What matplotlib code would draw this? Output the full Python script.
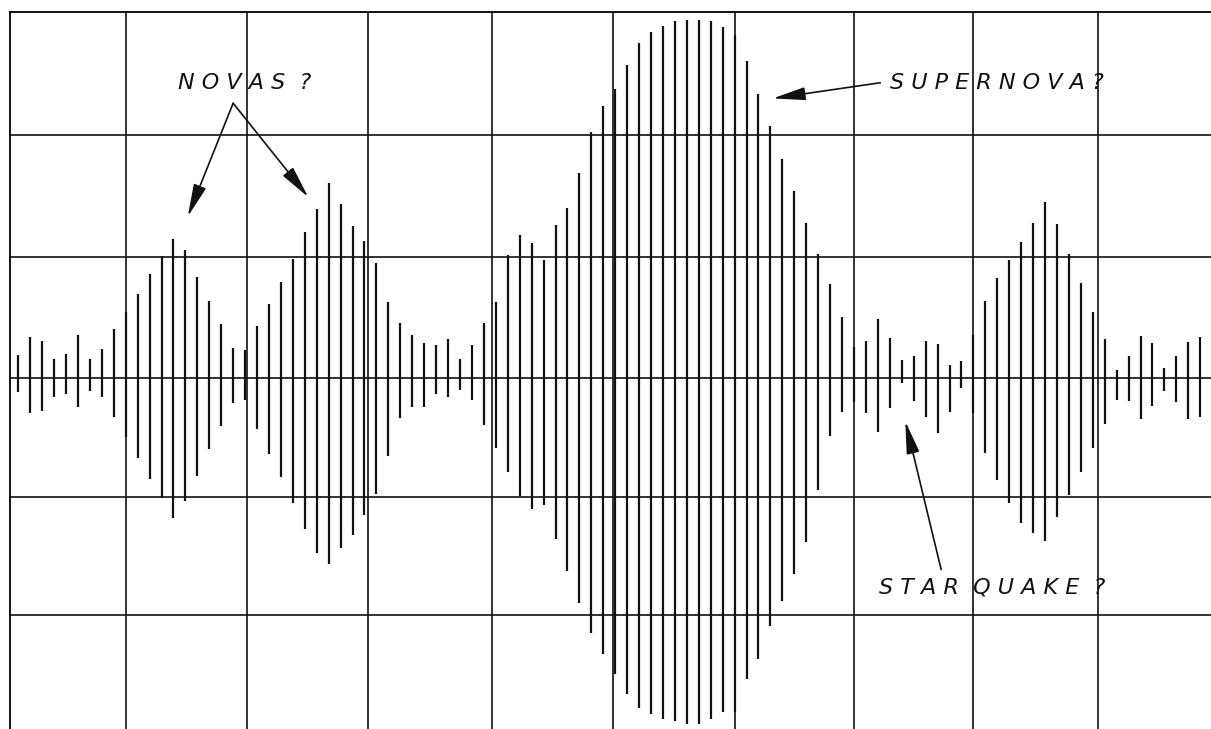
import numpy as np
from matplotlib import pyplot as plt

# pulse amplitudes in grid divisions, upward and downward swing of each pulse
up = [0.19, 0.34, 0.31, 0.16, 0.20, 0.36, 0.16, 0.24, 0.41, 0.55,
      0.70, 0.86, 1.01, 1.15, 1.06, 0.84, 0.64, 0.45, 0.25, 0.23,
      0.43, 0.61, 0.80, 0.99, 1.21, 1.40, 1.62, 1.44, 1.26, 1.14,
      0.95, 0.63, 0.46, 0.36, 0.29, 0.27, 0.32, 0.16, 0.27, 0.46,
      0.63, 1.02, 1.19, 1.12, 0.98, 1.27, 1.41, 1.70, 2.04, 2.26,
      2.40, 2.60, 2.78, 2.87, 2.92, 2.96, 2.97, 2.97, 2.96, 2.91,
      2.85, 2.63, 2.36, 2.09, 1.82, 1.55, 1.29, 1.03, 0.78, 0.51,
      0.26, 0.31, 0.49, 0.33, 0.15, 0.18, 0.31, 0.28, 0.11, 0.14,
      0.36, 0.64, 0.83, 0.98, 1.13, 1.29, 1.46, 1.28, 1.03, 0.79,
      0.55, 0.32, 0.07, 0.18, 0.35, 0.29, 0.08, 0.18, 0.30, 0.34]
down = [-0.12, -0.29, -0.27, -0.16, -0.13, -0.24, -0.11, -0.16, -0.32, -0.49,
        -0.66, -0.84, -1.00, -1.16, -1.02, -0.81, -0.59, -0.40, -0.21, -0.18,
        -0.42, -0.63, -0.82, -1.04, -1.25, -1.45, -1.54, -1.41, -1.30, -1.14,
        -0.96, -0.65, -0.33, -0.24, -0.24, -0.13, -0.16, -0.10, -0.18, -0.39,
        -0.58, -0.78, -0.98, -1.09, -1.05, -1.34, -1.60, -1.87, -2.12, -2.29,
        -2.46, -2.62, -2.74, -2.79, -2.83, -2.85, -2.87, -2.87, -2.83, -2.77,
        -2.77, -2.50, -2.33, -2.06, -1.85, -1.63, -1.36, -0.93, -0.48, -0.28,
        -0.20, -0.29, -0.45, -0.25, -0.04, -0.19, -0.32, -0.46, -0.28, -0.08,
        -0.29, -0.62, -0.85, -1.04, -1.20, -1.29, -1.35, -1.15, -0.97, -0.78,
        -0.58, -0.38, -0.18, -0.19, -0.34, -0.23, -0.11, -0.20, -0.34, -0.32]
t = np.arange(len(up))

# chart paper grid
grid_x = [9, 19.2, 29.3, 39.7, 49.8, 60, 70, 80, 90.4]
grid_y = [-1.97, -0.99, 0, 1, 2.02]

fig = plt.figure(figsize=(12.11, 7.29), dpi=100)
ax = fig.add_axes([10/1211, 0, 1 - 10/1211, 717/729])
ax.set_xlim(-0.69, 99.9)
ax.set_ylim(-2.913, 3.037)

for gx in grid_x:
    ax.axvline(gx, color="#111111", lw=1.2, zorder=1)
for gy in grid_y:
    ax.axhline(gy, color="#111111", lw=1.2, zorder=1)

ax.vlines(t, down, up, color="#111111", lw=1.6, zorder=2)

for s in ["right", "bottom"]:
    ax.spines[s].set_visible(False)
for s in ["left", "top"]:
    ax.spines[s].set_linewidth(1.3)
ax.set_xticks([])
ax.set_yticks([])

font = dict(family="DejaVu Sans", style="italic", fontsize=16, color="#111111")
arrow = dict(arrowstyle="-|>,head_length=1.0,head_width=0.2", color="#111111",
             lw=1.2, mutation_scale=20, shrinkA=0, shrinkB=0)

ax.text(19.0, 2.45, "N O V A S  ?", ha="center", va="center", **font)
ax.annotate("", xy=(14.2, up[14] + 0.28), xytext=(18.0, 2.28), arrowprops=arrow)
ax.annotate("", xy=(24.3, up[24] + 0.29), xytext=(18.0, 2.28), arrowprops=arrow)

ax.text(82.0, 2.45, "S U P E R N O V A ?", ha="center", va="center", **font)
ax.annotate("", xy=(63.2, 2.32), xytext=(72.2, 2.45), arrowprops=arrow)

ax.text(81.6, -1.74, "S T A R  Q U A K E  ?", ha="center", va="center", **font)
ax.annotate("", xy=(74.3, -0.36), xytext=(77.3, -1.59), arrowprops=arrow)

plt.savefig("out.png", dpi=100, facecolor="white")
